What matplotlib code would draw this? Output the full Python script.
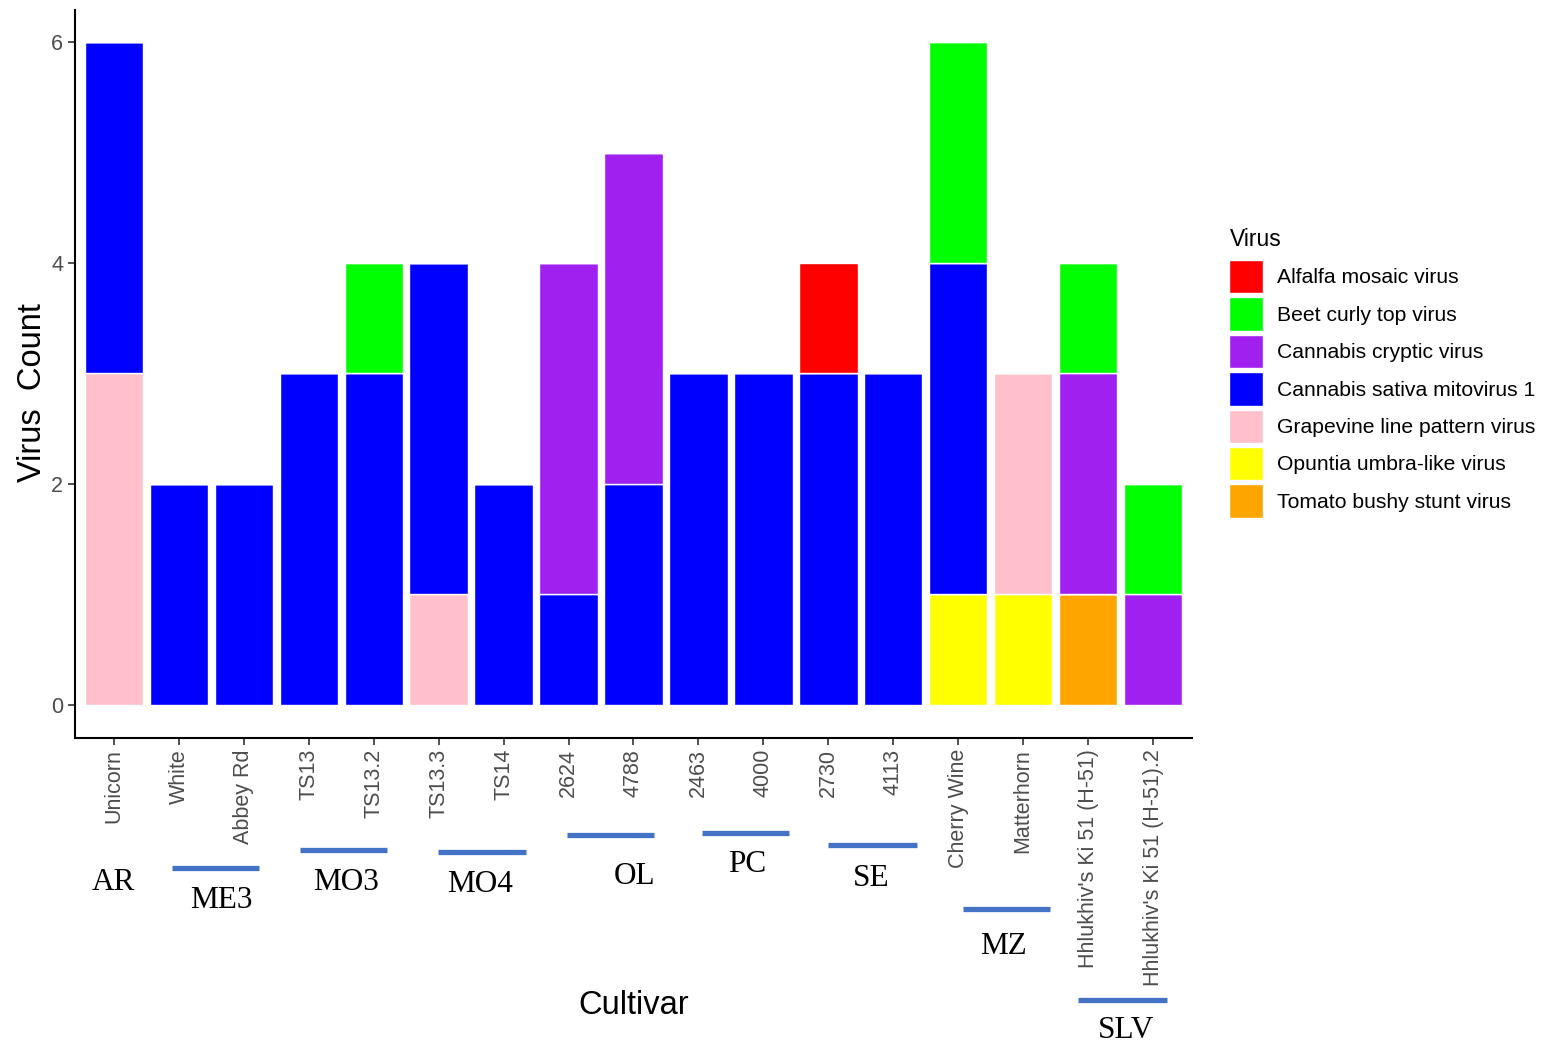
import matplotlib.pyplot as plt
import numpy as np
from matplotlib.patches import Patch
from matplotlib.transforms import blended_transform_factory

cultivars = ["Unicorn", "White", "Abbey Rd", "TS13", "TS13.2", "TS13.3", "TS14",
             "2624", "4788", "2463", "4000", "2730", "4113", "Cherry Wine",
             "Matterhorn", "Hhlukhiv's Ki 51 (H-51)", "Hhlukhiv's Ki 51 (H-51).2"]

viruses = ["Alfalfa mosaic virus", "Beet curly top virus", "Cannabis cryptic virus",
           "Cannabis sativa mitovirus 1", "Grapevine line pattern virus",
           "Opuntia umbra-like virus", "Tomato bushy stunt virus"]
colors = ["#FF0000", "#00FF00", "#A020F0", "#0000FF", "#FFC0CB", "#FFFF00", "#FFA500"]

alfalfa = [0, 0, 0, 0, 0, 0, 0, 0, 0, 0, 0, 1, 0, 0, 0, 0, 0]
beet = [0, 0, 0, 0, 1, 0, 0, 0, 0, 0, 0, 0, 0, 2, 0, 1, 1]
cryptic = [0, 0, 0, 0, 0, 0, 0, 3, 3, 0, 0, 0, 0, 0, 0, 2, 1]
mitovirus = [3, 2, 2, 3, 3, 3, 2, 1, 2, 3, 3, 3, 3, 3, 0, 0, 0]
grapevine = [3, 0, 0, 0, 0, 1, 0, 0, 0, 0, 0, 0, 0, 0, 2, 0, 0]
opuntia = [0, 0, 0, 0, 0, 0, 0, 0, 0, 0, 0, 0, 0, 1, 1, 0, 0]
tomato = [0, 0, 0, 0, 0, 0, 0, 0, 0, 0, 0, 0, 0, 0, 0, 1, 0]

counts = [alfalfa, beet, cryptic, mitovirus, grapevine, opuntia, tomato]

# group labels drawn by hand under the x axis (AR has no line)
group_names = ["AR", "ME3", "MO3", "MO4", "OL", "PC", "SE", "MZ", "SLV"]
line_x = [None, (0.895, 2.235), (2.87, 4.21), (4.99, 6.35), (6.97, 8.32),
          (9.05, 10.40), (11.00, 12.36), (13.07, 14.42), (14.85, 16.21)]
line_y = [None, 868, 850, 852, 835, 833, 845, 909, 1000]
label_x = [-0.01, 1.65, 3.58, 5.64, 8.01, 9.75, 11.66, 13.70, 15.58]
label_y = [882, 900, 882, 884, 877, 864, 878, 946, 1031]

W, H = 1547, 1044
fig = plt.figure(figsize=(W / 100, H / 100), dpi=100)
ax = fig.add_axes([75 / W, 1 - 738 / H, (1192 - 75) / W, (738 - 10) / H])

x = np.arange(len(cultivars))
bottom = np.zeros(len(cultivars))
for name, col, vals in reversed(list(zip(viruses, colors, counts))):
    vals = np.array(vals, dtype=float)
    ax.bar(x, vals, bottom=bottom, width=0.9, color=col, edgecolor="white",
           linewidth=1.0, label=name)
    bottom += vals

ax.set_xlim(-0.6, len(cultivars) - 0.4)
ax.set_ylim(-0.3, 6.29)
ax.set_yticks([0, 2, 4, 6])
ax.set_xticks(x)
ax.set_xticklabels(cultivars, rotation=90, ha="center", va="top")
ax.tick_params(axis="both", colors="#333333", labelcolor="#4D4D4D",
               labelsize=15.5, length=5, width=1.2)
ax.tick_params(axis="x", pad=3)
for lab in ax.get_xticklabels() + ax.get_yticklabels():
    lab.set_family("Liberation Sans")
for side in ["top", "right"]:
    ax.spines[side].set_visible(False)
for side in ["left", "bottom"]:
    ax.spines[side].set_linewidth(1.5)
    ax.spines[side].set_color("black")

ax.set_ylabel("Virus  Count", fontsize=23.5, family="Liberation Sans")
ax.yaxis.set_label_coords(-0.0245, 0.474)
fig.text(634 / W, 1 - 1005 / H, "Cultivar", fontsize=23.5, family="Liberation Sans",
         ha="center", va="center")

tr = blended_transform_factory(ax.transData, fig.transFigure)
for name, lx, ly, tx, ty in zip(group_names, line_x, line_y, label_x, label_y):
    if lx is not None:
        ax.plot(lx, [1 - ly / H] * 2, transform=tr, color="#4472C4",
                linewidth=3.8, solid_capstyle="butt", clip_on=False)
    ax.text(tx, 1 - ty / H, name, transform=tr, fontsize=22.5, family="Liberation Serif",
            ha="center", va="center", clip_on=False)

handles = [Patch(facecolor=c, edgecolor="white", linewidth=1) for c in colors]
leg = fig.legend(handles, viruses, loc="upper left", bbox_to_anchor=(1221 / W, 1 - 220 / H),
                 frameon=False, title="Virus", alignment="left",
                 prop={"family": "Liberation Sans", "size": 15.2},
                 handlelength=1.6, handleheight=2.06, labelspacing=0.19,
                 handletextpad=0.65, borderaxespad=0)
leg.get_title().set_fontsize(16.5)
leg.get_title().set_family("Liberation Sans")
leg._legend_box.sep = 6

fig.savefig("out.png", dpi=100)
